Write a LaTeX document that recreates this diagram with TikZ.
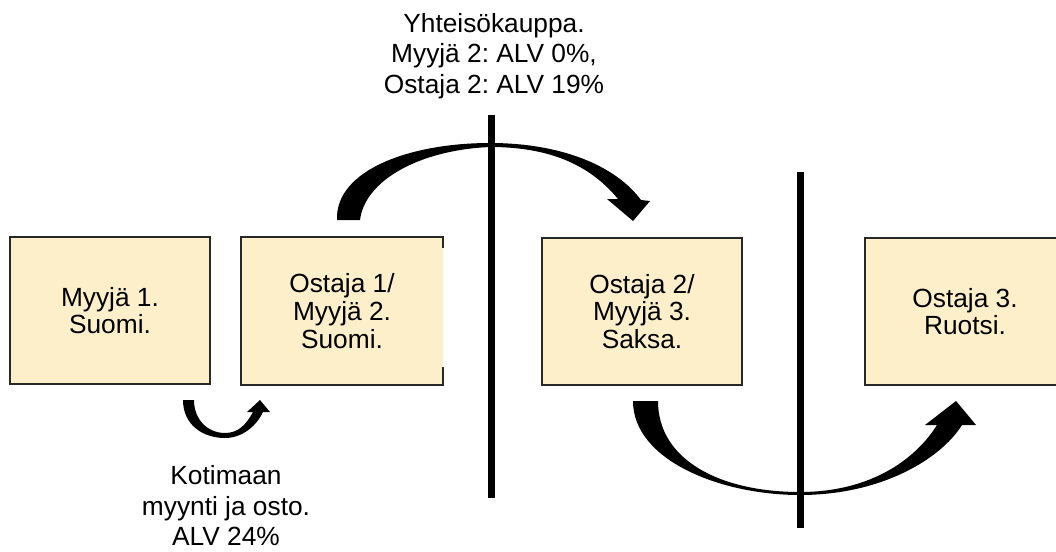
\documentclass[tikz,border=0pt]{standalone}
\usepackage{fontspec}
\setmainfont{Liberation Sans}
\frenchspacing
\usetikzlibrary{calc}
\definecolor{boxfill}{RGB}{252,239,202}
\definecolor{boxline}{RGB}{40,40,40}
\tikzset{
  party/.style={rectangle, fill=boxfill, minimum width=200pt, minimum height=147pt,
    inner sep=0pt, align=center, font=\fontsize{26.3}{27.8}\selectfont},
  partyline/.style={draw=boxline, line width=2pt},
  label/.style={align=center, inner sep=0pt, font=\fontsize{26.3}{30.5}\selectfont},
  flow/.style={fill=black},
  border/.style={line width=7pt, black}
}
\begin{document}
\begin{tikzpicture}[x=1pt,y=-1pt]
\useasboundingbox (0,0) rectangle (1056,551);
\fill[white] (0,0) rectangle (1056,551);
\begin{scope}
\clip (0,0) rectangle (1056,551);
% boxes
\node[party, partyline] (b1) at (110,310.5) {Myyjä 1.\\Suomi.};
\node[party, minimum width=202pt, minimum height=148pt] (b2) at (342,311) {Ostaja 1/\\Myyjä 2.\\Suomi.};
\draw[partyline] ($(b2.north east)+(0,11)$) -- (b2.north east) -- (b2.north west)
  -- (b2.south west) -- (b2.south east) -- ++(0,-18);
\node[party, partyline] (b3) at (642,311.5) {Ostaja 2/\\Myyjä 3.\\Saksa.};
\node[party, partyline] (b4) at (965,311.5) {Ostaja 3.\\Ruotsi.};
% labels
\node[label] (top) at (494,56) {Yhteisökauppa.\\Myyjä 2: ALV 0\%,\\Ostaja 2: ALV 19\%};
\node[label] (bottom) at (226,506) {Kotimaan\\myynti ja osto.\\ALV 24\%};
% arrows
\fill[flow] (183,400) .. controls (183,425) and (203,438) .. (225,438)
  .. controls (243,438) and (257,425) .. (263,412) -- (270,412) -- (260,400) -- (247,412) -- (253,412)
  .. controls (246,425) and (238,433) .. (225,433)
  .. controls (208,433) and (194,420) .. (194,400) -- cycle;
\fill[flow] (337,220) .. controls (335,170) and (410,143) .. (490,143)
  .. controls (560,143) and (615,165) .. (641,200) -- (650,201) -- (633,221) -- (607,199) -- (618,199)
  .. controls (590,165) and (550,147) .. (490,147)
  .. controls (420,150) and (365,180) .. (360,220) -- cycle;
\fill[flow] (633,401) .. controls (633,460) and (720,495) .. (800,495)
  .. controls (880,495) and (940,460) .. (962,425) -- (976,425) -- (956,401) -- (925,425) -- (937,425)
  .. controls (915,460) and (870,492) .. (800,492)
  .. controls (720,492) and (658,460) .. (658,401) -- cycle;
% borders
\coordinate (l1t) at (491,115);
\coordinate (l1b) at (491,498);
\coordinate (l2t) at (800,172);
\coordinate (l2b) at (800,528);
\draw[border] (l1t) -- (l1b);
\draw[border] (l2t) -- (l2b);
\end{scope}
\end{tikzpicture}
\end{document}
